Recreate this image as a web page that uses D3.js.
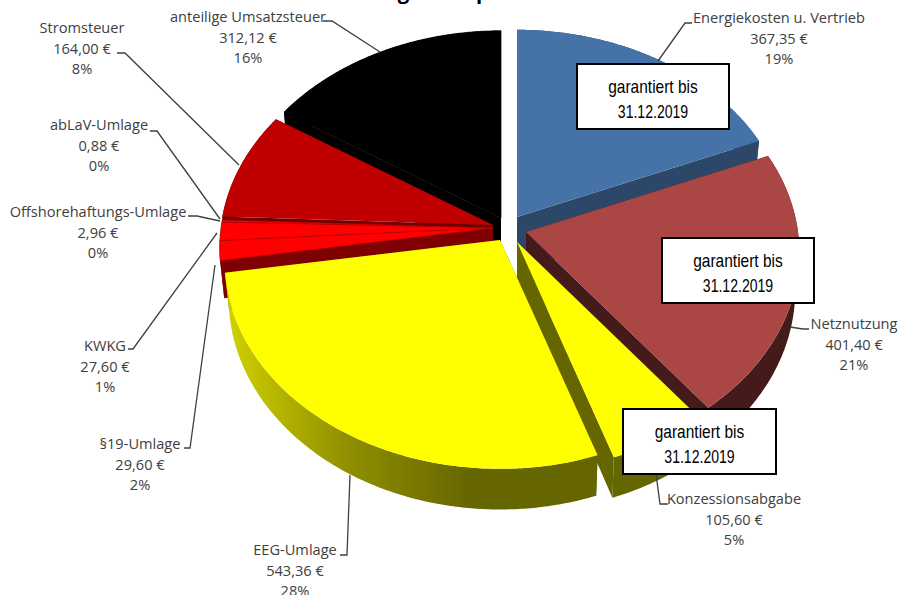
<!DOCTYPE html>
<html><head><meta charset="utf-8">
<style>html,body{margin:0;padding:0;background:#fff;overflow:hidden}svg{display:block}</style>
<script src="https://cdn.jsdelivr.net/npm/d3@7"></script></head>
<body><svg id="c" width="898" height="595"></svg>
<script>
// ---- data ----
const categories = ["Energiekosten u. Vertrieb","Netznutzung","Konzessionsabgabe","EEG-Umlage","§19-Umlage","KWKG","Offshorehaftungs-Umlage","abLaV-Umlage","Stromsteuer","anteilige Umsatzsteuer"];
const values = [367.35,401.40,105.60,543.36,29.60,27.60,2.96,0.88,164.00,312.12];
const titleText = "Zusammensetzung Strompreis";
const noteLines = ["garantiert bis","31.12.2019"];

// ---- styles / layout (kept apart from the data) ----
const topColors  = ["#4572a7","#aa4643","#ffff00","#ffff00","#ff0000","#ff0000","#ff0000","#c00000","#c00000","#000000"];
const sideColors = ["#2c4768","#451a1a","#666600","#666600","#7f0000","#7f0000","#7f0000","#6a0000","#6a0000","#000000"];
const explodeX = [14,23,14,-3,-10,-10,-10,-10,-10,-2];
const explodeY = [-15,0,10,8,-4,-4,-4,-4,-7,-14];
const widthScale = [1,1,1,1.008,1,1,1,1,1,1];
const drawOrder = [9,8,7,6,5,4,0,1,2,3];
const labelX = [779,854,734,295,140,105,98,99,82,248];
const labelY = [23,329,504,555,449,351,217,130,33,22];
const lineGap = 20.5;
const leaders = [
 [[658,61],[685,23],[692,23]],
 [[790,327],[803,329],[809,329]],
 [[656,474],[660,504],[668,504]],
 [[350,475],[347,555],[340,555]],
 [[215,265],[190,448],[184,448]],
 [[217,233],[133,349],[128,349]],
 [[220,221],[197,216],[188,216]],
 [[220,219],[157,131],[150,131]],
 [[239,165],[125,53],[117,53]],
 [[380,52],[332,21],[323,21]]
];
const notes = [{x:577,y:64,w:152,h:65},{x:662,y:238,w:152,h:65},{x:623,y:409,w:153,h:65}];
const noteSqueeze = [0.815,0.74];
const cx=503, cy=232, R=272, K=208, P=0.1, DEPTH=37, BOTTOM_SHRINK=0.015;

const svg = d3.select("#c");
const defs = svg.append("defs");
const grad = defs.append("linearGradient").attr("id","rimEEG").attr("gradientUnits","userSpaceOnUse")
  .attr("x1",228).attr("x2",470).attr("y1",0).attr("y2",0);
grad.append("stop").attr("offset",0).attr("stop-color","#d0d000");
grad.append("stop").attr("offset",0.5).attr("stop-color","#8f8f00");
grad.append("stop").attr("offset",1).attr("stop-color","#666600");

const colorTop = d3.scaleOrdinal(categories, topColors);
const colorSide = d3.scaleOrdinal(categories, sideColors);
const arcs = d3.pie().sort(null)(values);
const share = d3.format(".0%");
const money = v => d3.format(".2f")(v).replace(".",",")+" €";
const total = d3.sum(values);

function proj(a,r,z,i){
  const X=r*Math.sin(a), Y=-r*Math.cos(a), s=1+P*Y;
  return [cx+explodeX[i]+R*widthScale[i]*X*s*(1-z*BOTTOM_SHRINK), cy+explodeY[i]+K*Y*s+z*DEPTH*s];
}
const line=d3.line();
const pieG=svg.append("g");
drawOrder.forEach(i=>{
  const d=arcs[i], c=categories[i];
  const n=Math.max(2,Math.ceil((d.endAngle-d.startAngle)/0.01));
  const angs=d3.range(n+1).map(k=>d.startAngle+(d.endAngle-d.startAngle)*k/n);
  const g=pieG.append("g");
  const face=a=>[proj(a,0,0,i),proj(a,1,0,i),proj(a,1,1,i),proj(a,0,1,i)];
  g.append("path").attr("d",line(face(d.startAngle))+"Z").attr("fill",colorSide(c));
  g.append("path").attr("d",line(face(d.endAngle))+"Z").attr("fill",colorSide(c));
  const rim=angs.map(a=>proj(a,1,0,i)).concat(angs.slice().reverse().map(a=>proj(a,1,1,i)));
  g.append("path").attr("d",line(rim)+"Z").attr("fill",c==="EEG-Umlage"?"url(#rimEEG)":colorSide(c));
  const top=[proj(0,0,0,i)].concat(angs.map(a=>proj(a,1,0,i)));
  const p=g.append("path").attr("d",line(top)+"Z").attr("fill",colorTop(c));
  if(topColors[i]==="#ff0000") p.attr("stroke","#b00000").attr("stroke-width",0.6);
  if(topColors[i]==="#000000") p.attr("stroke","#000").attr("stroke-width",0.7);
});

// leader lines
svg.append("g").selectAll("path").data(leaders).join("path")
  .attr("d",d=>line(d)).attr("fill","none").attr("stroke","#404040").attr("stroke-width",1.3);

// labels
const lab=svg.append("g").attr("font-family","'Open Sans','Noto Sans',sans-serif").attr("font-size",14.6).attr("fill","#404040").attr("text-anchor","middle");
categories.forEach((c,i)=>{
  [c,money(values[i]),share(values[i]/total)].forEach((t,k)=>{
    lab.append("text").attr("x",labelX[i]).attr("y",labelY[i]+k*lineGap).text(t);
  });
});

// note boxes
const nb=svg.append("g");
notes.forEach(b=>{
  nb.append("rect").attr("x",b.x).attr("y",b.y).attr("width",b.w).attr("height",b.h)
    .attr("fill","#fff").attr("stroke","#000").attr("stroke-width",2);
  noteLines.forEach((t,k)=>{
    const el=nb.append("text").attr("x",b.x+b.w/2).attr("y",b.y+29+k*25).attr("text-anchor","middle")
      .attr("font-family","'Liberation Sans',sans-serif").attr("font-size",19).attr("fill","#000").text(t);
    el.attr("lengthAdjust","spacingAndGlyphs").attr("textLength",el.node().getComputedTextLength()*noteSqueeze[k]);
  });
});

// title, cut off by the top edge in the reference
svg.append("text").attr("x",372).attr("y",-1).attr("text-anchor","middle")
  .attr("font-family","'Open Sans',sans-serif").attr("font-weight",700).attr("font-size",20.3).attr("fill","#000").text(titleText);
</script></body></html>
